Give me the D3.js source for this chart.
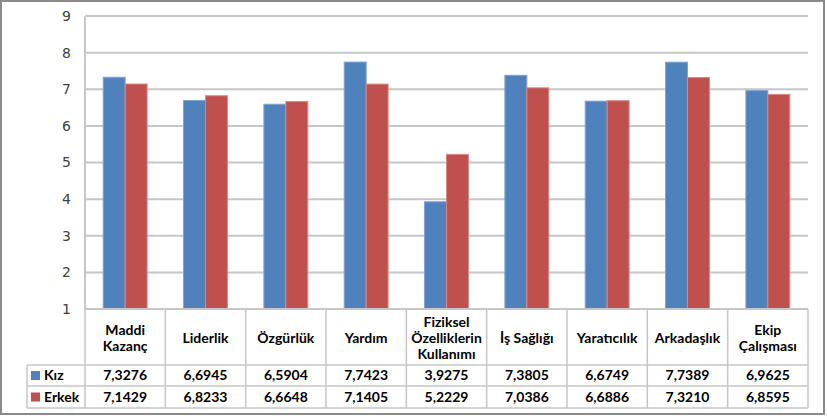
<!DOCTYPE html>
<html><head><meta charset="utf-8">
<script src="https://cdn.jsdelivr.net/npm/d3@7"></script>
<style>body{margin:0;background:#fff}svg{display:block}</style>
</head><body>
<svg id="c" width="827" height="416"></svg>
<script>
const categories = [["Maddi","Kazanç"],["Liderlik"],["Özgürlük"],["Yardım"],["Fiziksel","Özelliklerin","Kullanımı"],["İş Sağlığı"],["Yaratıcılık"],["Arkadaşlık"],["Ekip","Çalışması"]];
const seriesNames = ["Kız","Erkek"];
const kiz = [7.3276,6.6945,6.5904,7.7423,3.9275,7.3805,6.6749,7.7389,6.9625];
const erkek = [7.1429,6.8233,6.6648,7.1405,5.2229,7.0386,6.6886,7.3210,6.8595];
const yTicks = [1,2,3,4,5,6,7,8,9];
const colors = ["#4F81BD","#C0504D"];
const strokes = ["#7FA3D1","#D88A88"];

const svg = d3.select("#c");
const L=85, R=808, T=16, B=309;
const idx = d3.range(categories.length);
const x = d3.scaleBand().domain(idx).range([L,R]).padding(0);
const xs = d3.scaleBand().domain([0,1]).range([0,x.bandwidth()]).paddingInner(0).paddingOuter(0.83);
const y = d3.scaleLinear().domain([1,9]).range([B,T]);
const gridCol="#c6c6c6";

// grid
svg.append("g").selectAll("line").data(yTicks.slice(1)).join("line")
  .attr("x1",L).attr("x2",R).attr("y1",d=>y(d)).attr("y2",d=>y(d))
  .attr("stroke",gridCol).attr("stroke-width",2);

// y axis labels
const yAxis = d3.axisLeft(y).tickValues(yTicks).tickSize(0).tickPadding(14).tickFormat(d3.format("d"));
const ga = svg.append("g").attr("transform",`translate(${L},0)`).call(yAxis);
ga.select(".domain").remove();
ga.selectAll("text").attr("font-family","DejaVu Sans").attr("font-size",14).attr("fill","#404040");

// bars
const data = [kiz, erkek];
data.forEach((vals,si)=>{
  svg.append("g").selectAll("rect").data(vals).join("rect")
    .attr("x",(d,i)=>x(i)+xs(si)).attr("width",xs.bandwidth())
    .attr("y",d=>y(d)).attr("height",d=>y(1)-y(d))
    .attr("fill",colors[si]).attr("stroke",strokes[si]).attr("stroke-width",1);
});

// axis lines
svg.append("line").attr("x1",L).attr("x2",L).attr("y1",T).attr("y2",B).attr("stroke",gridCol).attr("stroke-width",2);
svg.append("line").attr("x1",L).attr("x2",R).attr("y1",B).attr("y2",B).attr("stroke",gridCol).attr("stroke-width",2);

// table
const rowY=[365,386,408], leftX=27;
const tg = svg.append("g");
idx.concat([categories.length]).forEach(i=>{
  const xx = i<categories.length ? x(i) : R;
  tg.append("line").attr("x1",xx).attr("x2",xx).attr("y1",B).attr("y2",rowY[2]).attr("stroke",gridCol).attr("stroke-width",1.5);
});
rowY.forEach(yy=>tg.append("line").attr("x1",leftX).attr("x2",R).attr("y1",yy).attr("y2",yy).attr("stroke",gridCol).attr("stroke-width",1.5));
tg.append("line").attr("x1",leftX).attr("x2",leftX).attr("y1",rowY[0]).attr("y2",rowY[2]).attr("stroke",gridCol).attr("stroke-width",1.5);

const font="Lato";
// headers
categories.forEach((lines,i)=>{
  const cx = x(i)+x.bandwidth()/2;
  const cy = (B+rowY[0])/2 + 1;
  const lh = 16;
  lines.forEach((t,k)=>{
    tg.append("text").attr("x",cx).attr("y",cy+(k-(lines.length-1)/2)*lh)
      .attr("dy","0.35em").attr("text-anchor","middle")
      .attr("font-family",font).attr("font-weight","bold").attr("font-size",14).attr("fill","#000").text(t);
  });
});
// values
const fmt = v=>v.toFixed(4).replace(".",",");
data.forEach((vals,si)=>{
  const cy=(rowY[si]+rowY[si+1])/2;
  vals.forEach((v,i)=>{
    tg.append("text").attr("x",x(i)+x.bandwidth()/2).attr("y",cy).attr("dy","0.35em").attr("text-anchor","middle")
      .attr("font-family",font).attr("font-weight","bold").attr("font-size",14).attr("fill","#000").text(fmt(v));
  });
  tg.append("rect").attr("x",31).attr("y",cy-4.5).attr("width",9).attr("height",9).attr("fill",colors[si]);
  tg.append("text").attr("x",44).attr("y",cy).attr("dy","0.35em")
    .attr("font-family",font).attr("font-weight","bold").attr("font-size",14).attr("fill","#000").text(seriesNames[si]);
});

// outer border
svg.append("rect").attr("x",1).attr("y",1).attr("width",823).attr("height",413).attr("fill","none").attr("stroke","#8a8a8a").attr("stroke-width",2);
</script>
</body></html>
